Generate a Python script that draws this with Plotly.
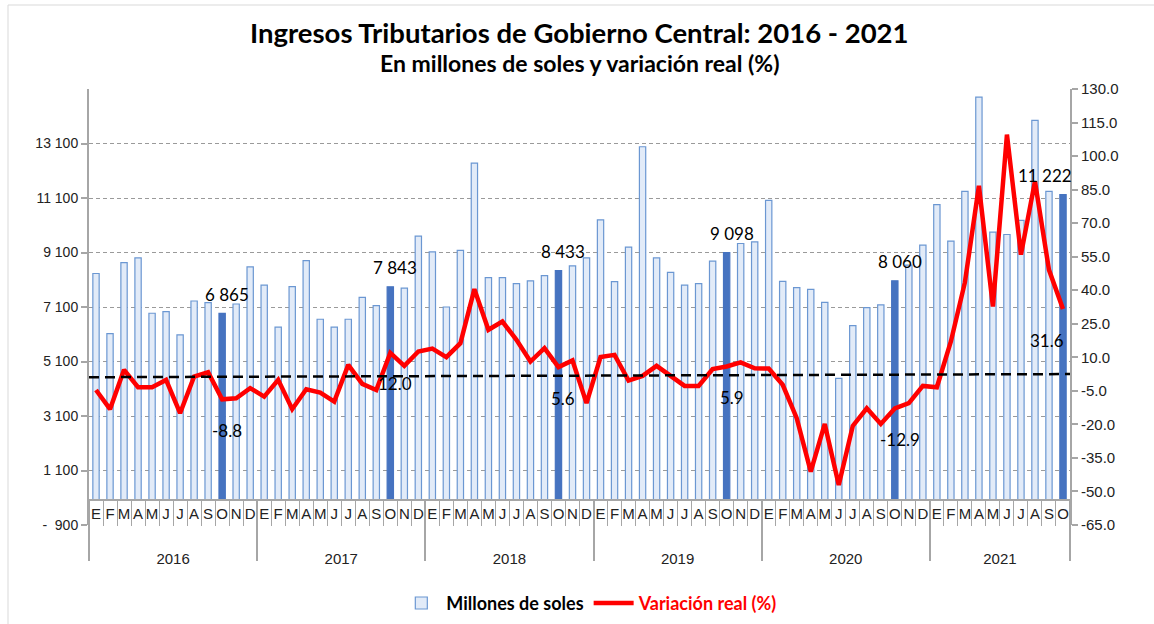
import plotly.graph_objects as go

# ---------------- data ----------------
years = ["2016", "2017", "2018", "2019", "2020", "2021"]
month_letters = ["E", "F", "M", "A", "M", "J", "J", "A", "S", "O", "N", "D"]
months_per_year = [12, 12, 12, 12, 12, 10]

ingresos_2016 = [8330, 6120, 8730, 8900, 6870, 6930, 6080, 7320, 7260, 6865, 7210, 8570]
ingresos_2017 = [7900, 6360, 7850, 8800, 6650, 6360, 6650, 7450, 7150, 7843, 7790, 9700]
ingresos_2018 = [9120, 7100, 9180, 12380, 8180, 8180, 7960, 8060, 8250, 8433, 8610, 8900]
ingresos_2019 = [10300, 8030, 9300, 12980, 8900, 8370, 7900, 7960, 8780, 9098, 9430, 9490]
ingresos_2020 = [11010, 8040, 7810, 7750, 7270, 4480, 6420, 7080, 7180, 8060, 8640, 9370]
ingresos_2021 = [10860, 9520, 11340, 14800, 9850, 9760, 10280, 13950, 11340, 11222]

variacion_2016 = [-4.6, -13.2, 4.4, -3.4, -3.4, -0.1, -15.0, 1.4, 3.3, -8.8, -8.3, -3.8]
variacion_2017 = [-7.6, -0.1, -13.2, -4.3, -5.8, -9.8, 6.6, -1.9, -4.6, 12.0, 6.2, 12.6]
variacion_2018 = [13.9, 10.1, 16.3, 40.5, 22.3, 26.0, 17.8, 8.1, 14.1, 5.6, 8.6, -10.5]
variacion_2019 = [10.1, 11.1, -0.4, 1.7, 6.2, 1.4, -2.8, -2.8, 4.7, 5.9, 7.7, 5.1]
variacion_2020 = [5.0, -2.3, -17.2, -41.1, -19.8, -47.1, -20.7, -12.8, -19.8, -12.9, -10.5, -2.8]
variacion_2021 = [-3.4, 17.1, 43.5, 86.7, 32.7, 109.6, 55.9, 88.7, 49.1, 31.6]

tendencia = [1.1, 2.5]          # dashed reference line (right axis), start / end
idx_destacado = 9               # October bars highlighted and labelled

left_ticks = [-900, 1100, 3100, 5100, 7100, 9100, 11100, 13100]
left_ticktext = ["-  900", "1 100", "3 100", "5 100", "7 100", "9 100", "11 100", "13 100"]
left_range = [-900, 15100]
right_ticks = [-65, -50, -35, -20, -5, 10, 25, 40, 55, 70, 85, 100, 115, 130]
right_range = [-65, 130]

# ---------------- assemble ----------------
ingresos = ingresos_2016 + ingresos_2017 + ingresos_2018 + ingresos_2019 + ingresos_2020 + ingresos_2021
variacion = variacion_2016 + variacion_2017 + variacion_2018 + variacion_2019 + variacion_2020 + variacion_2021

meses, mes_idx = [], []
for y, cnt in zip(years, months_per_year):
    for m in range(cnt):
        meses.append(month_letters[m])
        mes_idx.append(m)
n = len(ingresos)
xs = list(range(n))

def fmt_miles(v):
    return f"{v:,}".replace(",", " ")

LIGHT_FILL = "#e2ebf8"
LIGHT_LINE = "#6b97d2"
DARK = "#4673c0"
GRAY = "#a6a6a6"

bar_fill = [DARK if k == idx_destacado else LIGHT_FILL for k in mes_idx]
bar_line = [DARK if k == idx_destacado else LIGHT_LINE for k in mes_idx]

fig = go.Figure()
fig.add_trace(go.Bar(
    x=xs, y=ingresos, width=0.45,
    marker=dict(color=bar_fill, line=dict(color=bar_line, width=1.2)),
    name="<b>Millones de soles</b>", yaxis="y", xaxis="x",
))
fig.add_trace(go.Scatter(
    x=xs, y=variacion, mode="lines",
    line=dict(color="#ff0000", width=4.5),
    name="<b><span style='color:#ff0000'>Variación real (%)</span></b>",
    yaxis="y2", xaxis="x",
))
fig.add_trace(go.Scatter(
    x=[-0.5, n - 0.5], y=tendencia, mode="lines",
    line=dict(color="black", width=2.5, dash="10px,6px"),
    showlegend=False, hoverinfo="skip", yaxis="y2", xaxis="x2",
))

# year boundaries / centres
bounds, centers, start = [-0.5], [], 0
for cnt in months_per_year:
    centers.append(start + (cnt - 1) / 2)
    start += cnt
    bounds.append(start - 0.5)

pos = (0 - left_range[0]) / (left_range[1] - left_range[0])

annotations = []
label_font = dict(family="Lato", size=17, color="black")
for i in xs:
    if mes_idx[i] != idx_destacado:
        continue
    last = i == n - 1
    annotations.append(dict(
        x=i, y=ingresos[i], xref="x", yref="y", text=fmt_miles(ingresos[i]),
        showarrow=False, font=label_font, yanchor="middle",
        xshift=-18 if last else 5, yshift=19))
    annotations.append(dict(
        x=i, y=variacion[i], xref="x", yref="y2", text=f"{variacion[i]:.1f}",
        showarrow=False, font=label_font, yanchor="middle",
        xshift=-16 if last else 5, yshift=-31))

annotations.append(dict(
    x=0.5, y=1, xref="paper", yref="paper", yanchor="middle", yshift=57,
    text="<b>Ingresos Tributarios de Gobierno Central: 2016 - 2021</b>",
    showarrow=False, font=dict(family="Lato", size=27.5, color="black")))
annotations.append(dict(
    x=0.5, y=1, xref="paper", yref="paper", yanchor="middle", yshift=26,
    text="<b>En millones de soles y variación real (%)</b>",
    showarrow=False, font=dict(family="Lato", size=23, color="black")))

fig.update_layout(
    width=1154, height=624,
    margin=dict(l=89, r=84, t=89, b=99, autoexpand=False),
    paper_bgcolor="white", plot_bgcolor="white",
    font=dict(family="Liberation Sans", size=14, color="#222222"),
    showlegend=True,
    legend=dict(orientation="h", x=0.51, xanchor="center", y=-0.222, yanchor="bottom",
                font=dict(family="Lato", size=18, color="black"), traceorder="normal",
                itemwidth=40),
    xaxis=dict(
        type="linear", range=[-0.5, n - 0.5], anchor="free", position=pos,
        tickmode="array", tickvals=xs, ticktext=meses, ticks="",
        showline=True, linecolor=GRAY, linewidth=1.5, showgrid=False, zeroline=False,
        tickfont=dict(size=15, color="#222222"),
        minor=dict(tickmode="array", tickvals=[i - 0.5 for i in range(n + 1)],
                   ticks="outside", ticklen=25, tickcolor=GRAY, tickwidth=1.2),
    ),
    xaxis2=dict(
        type="linear", range=[-0.5, n - 0.5], overlaying="x", anchor="free", position=pos,
        tickmode="array", tickvals=centers, ticktext=years, ticks="",
        ticklabelstandoff=48, showline=False, showgrid=False, zeroline=False,
        tickfont=dict(size=15, color="#222222"), side="bottom",
        minor=dict(tickmode="array", tickvals=bounds, ticks="outside",
                   ticklen=60, tickcolor=GRAY, tickwidth=2),
    ),
    yaxis=dict(
        range=left_range, tickmode="array", tickvals=left_ticks, ticktext=left_ticktext,
        showgrid=True, gridcolor="#9a9a9a", gridwidth=1, griddash="4px,3px",
        zeroline=False, showline=True, linecolor=GRAY, linewidth=2,
        ticks="outside", ticklen=6, tickcolor=GRAY, tickwidth=1.5,
        tickfont=dict(size=14, color="#222222"),
    ),
    yaxis2=dict(
        range=right_range, overlaying="y", side="right", anchor="x",
        tickmode="array", tickvals=right_ticks, ticktext=[f"{v:.1f}" for v in right_ticks],
        showgrid=False, zeroline=False, showline=True, linecolor=GRAY, linewidth=2,
        ticks="outside", ticklen=6, tickcolor=GRAY, tickwidth=1.5,
        tickfont=dict(size=15, color="#222222"),
    ),
    annotations=annotations,
    shapes=[dict(type="rect", xref="paper", yref="paper",
                 x0=-81 / 981, x1=1.2, y0=-0.5, y1=1 + 84 / 436,
                 line=dict(color="#d9d9d9", width=1), layer="below")],
)

fig.write_html("out.html", config={"displayModeBar": False},
               post_script="document.body.style.margin='0';")
